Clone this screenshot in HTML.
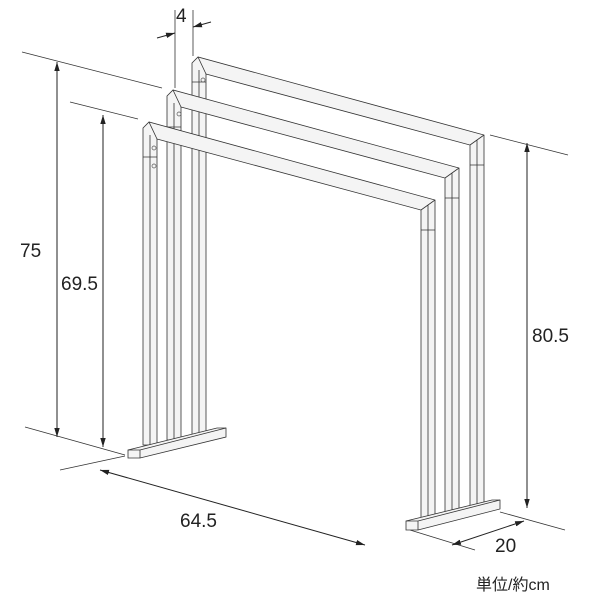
<!DOCTYPE html>
<html><head><meta charset="utf-8"><style>body{margin:0;background:#fff}svg{display:block}</style></head><body>
<svg width="600" height="600" viewBox="0 0 600 600" xmlns="http://www.w3.org/2000/svg" font-family="Liberation Sans, sans-serif">
<defs><marker id="a" viewBox="0 0 10 10" refX="10" refY="5" markerWidth="9" markerHeight="9" orient="auto-start-reverse"><path d="M0,2 L10,5 L0,8 Z" fill="#222"/></marker></defs>
<g stroke="#333" stroke-width="0.8" fill="none">
<line x1="22" y1="52" x2="162" y2="88"/>
<line x1="70" y1="102" x2="138" y2="119"/>
<line x1="25" y1="427" x2="125" y2="455"/>
<line x1="60" y1="470" x2="125" y2="456"/>
<line x1="175" y1="10" x2="175" y2="88"/>
<line x1="193" y1="10" x2="193" y2="56"/>
<line x1="490" y1="135" x2="568" y2="155"/>
<line x1="500" y1="512" x2="565" y2="530"/>
<line x1="410" y1="530" x2="475" y2="550"/>
</g>
<g stroke="#222" stroke-width="1" fill="none">
<line x1="57" y1="62" x2="57" y2="437" marker-start="url(#a)" marker-end="url(#a)"/>
<line x1="103" y1="115" x2="103" y2="447" marker-start="url(#a)" marker-end="url(#a)"/>
<line x1="527" y1="143" x2="527" y2="508" marker-start="url(#a)" marker-end="url(#a)"/>
<line x1="100" y1="470" x2="365" y2="545" marker-start="url(#a)" marker-end="url(#a)"/>
<line x1="452" y1="545" x2="524" y2="521" marker-start="url(#a)" marker-end="url(#a)"/>
<line x1="157" y1="38" x2="175" y2="33" marker-end="url(#a)"/>
<line x1="211" y1="22" x2="193" y2="27" marker-end="url(#a)"/>
</g>
<g stroke="#333" stroke-width="0.8" fill="#f4f4f4">
<path d="M192,63 L198,57 L484,135 L484,508 L470,508 L470,145 L206,74 L206,435 L192,435 Z"/>
<path d="M199,435 V70 M477,508 V140 M198,57 L206,74 M484,135 L470,145 M192,82 H206 M470,165 H484" fill="none"/>
<path d="M167,96 L173,90 L459,168 L459,513 L445,513 L445,178 L181,107 L181,440 L167,440 Z"/>
<path d="M174,440 V103 M452,513 V173 M173,90 L181,107 M459,168 L445,178 M167,127 H181 M445,198 H459" fill="none"/>
<path d="M143,128 L149,122 L435,200 L435,518 L421,518 L421,210 L157,139 L157,445 L143,445 Z"/>
<path d="M150,445 V135 M428,518 V205 M149,122 L157,139 M435,200 L421,210 M143,157 H157 M421,230 H435" fill="none"/>
<path d="M128,450 L217,428 L226,428 L226,437 L140,458 L128,458 Z"/>
<path d="M128,450 L140,450 L226,428 M140,450 V458" fill="none"/>
<path d="M406,521 L492,500 L500,500 L500,509 L418,530 L406,530 Z"/>
<path d="M406,521 L418,521 L500,500 M418,521 V530" fill="none"/>
</g>
<g fill="none" stroke="#555" stroke-width="0.7">
<circle cx="203" cy="80" r="2"/><circle cx="179" cy="114" r="2"/>
<circle cx="154" cy="148" r="2"/><circle cx="154" cy="166" r="2"/>
</g>
<g fill="#222" font-size="19">
<text x="176" y="22">4</text>
<text x="20" y="257">75</text>
<text x="61" y="290">69.5</text>
<text x="532" y="342">80.5</text>
<text x="180" y="527">64.5</text>
<text x="495" y="552">20</text>
<text x="476" y="590" font-size="16" font-family="Liberation Sans, Noto Sans CJK JP, sans-serif">単位/約cm</text>
</g>
</svg>
</body></html>
